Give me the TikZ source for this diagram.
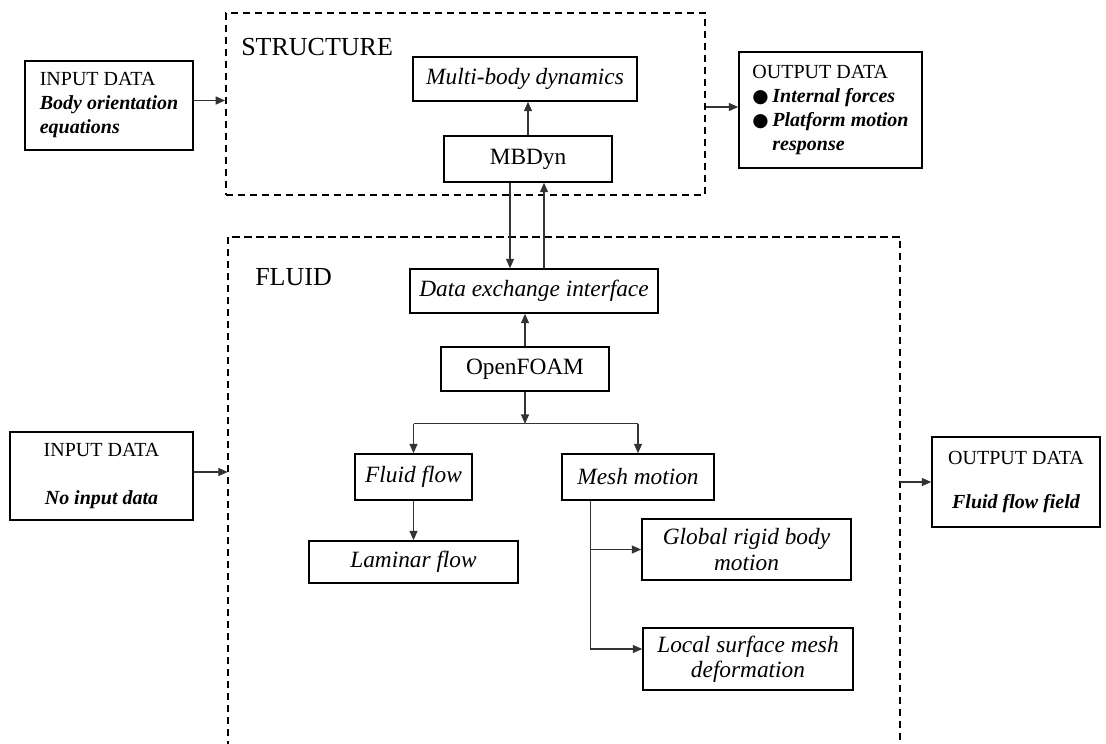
\documentclass[tikz,border=0pt]{standalone}
\usepackage{fontspec}
\setmainfont{Liberation Serif}
\newfontfamily\dejavu{DejaVu Sans}
\usetikzlibrary{arrows.meta,calc}
\newcommand\bul{\makebox[15pt][l]{\dejavu\fontsize{14}{14}\selectfont ●}}
\newcommand\bfit[1]{{\bfseries\itshape #1}}
\begin{document}
\begin{tikzpicture}[x=0.75pt,y=-0.75pt,
  box/.style={draw,line width=1.2pt,inner sep=0pt,align=center,font=\fontsize{17.5}{19}\selectfont\itshape},
  plainbox/.style={box,font=\fontsize{17.5}{19}\selectfont},
  databox/.style={draw,line width=1.2pt,inner sep=0pt,font=\fontsize{15}{18}\selectfont},
  region/.style={line width=1.4pt,dash pattern=on 5.5pt off 3.5pt},
  conn/.style={line width=0.8pt,draw=black!80},
  arr/.style={conn,-{Triangle[length=7pt,width=6pt]}},
  title/.style={font=\fontsize{19.5}{22}\selectfont,anchor=base west,inner sep=0pt}]
\useasboundingbox (0,0) rectangle (1106,743);
\clip (0,0) rectangle (1106,743);

% regions
\node[region,draw,minimum width=359.25pt,minimum height=136.5pt,inner sep=0pt] (struct) at (465.5,104) {};
\node[minimum width=504pt,minimum height=392.25pt,inner sep=0pt] (fluid) at (564,498.5) {};
\draw[region] (fluid.south west) |- (fluid.north east) -- (fluid.south east);
\node[title] (structt) at (241,55) {STRUCTURE};
\node[title] (fluidt) at (255,285) {FLUID};

% structure boxes
\node[box,minimum width=168pt,minimum height=33pt] (mbdD) at (525,79) {Multi-body dynamics};
\node[plainbox,minimum width=126pt,minimum height=34.5pt] (mbd) at (528,159) {MBDyn};

% fluid boxes
\node[box,minimum width=186pt,minimum height=33pt] (dx) at (534,291) {Data exchange interface};
\node[plainbox,minimum width=126pt,minimum height=33pt] (of) at (525,369) {OpenFOAM};
\node[box,minimum width=87.75pt,minimum height=34.5pt] (ff) at (413.5,477) {Fluid flow};
\node[box,minimum width=114pt,minimum height=34.5pt] (mm) at (638,477) {Mesh motion};
\node[box,minimum width=156.75pt,minimum height=31.5pt] (lam) at (413.5,562) {Laminar flow};
\node[box,minimum width=156.75pt,minimum height=45.75pt] (glob) at (746.5,549.5) {Global rigid body\\motion};
\node[box,minimum width=157.5pt,minimum height=46.5pt] (loc) at (748,659) {Local surface mesh\\deformation};

% data boxes
\node[databox,align=left,minimum width=126pt,minimum height=66.75pt] (in1) at (109,105.5)
  {INPUT DATA\\\bfit{Body orientation}\\\bfit{equations}};
\node[databox,align=left,minimum width=137.25pt,minimum height=87pt] (out1) at (830.5,110)
  {OUTPUT DATA\\\bul\bfit{Internal forces}\\\bul\bfit{Platform motion}\\\hspace*{15pt}\bfit{response}};
\node[databox,align=center,minimum width=137.25pt,minimum height=66pt] (in2) at (101.5,476)
  {INPUT DATA\\[18pt]\bfit{No input data}};
\node[databox,align=center,minimum width=126pt,minimum height=67.5pt] (out2) at (1016,482)
  {OUTPUT DATA\\[15pt]\bfit{Fluid flow field}};

% connectors
\draw[arr] ($(in1.east)+(0,-5)$) coordinate (a1) -- (a1 -| struct.west);
\draw[arr] ($(struct.east)+(0,3)$) coordinate (a2) -- (a2 -| out1.west);
\draw[arr] (mbd.north) -- (mbd.north |- mbdD.south);
\coordinate (d1) at ($(mbd.south)+(-18,0)$);
\coordinate (u1) at ($(mbd.south)+(16,0)$);
\draw[arr] (d1) -- (d1 |- dx.north);
\draw[arr] (u1 |- dx.north) -- (u1);
\draw[arr] (of.north) -- (of.north |- dx.south);
\draw[arr] (of.south) -- ++(0,32) coordinate (split);
\draw[conn] (split -| ff.north) -- (split -| mm.north);
\draw[arr] (split -| ff.north) -- (ff.north);
\draw[arr] (split -| mm.north) -- (mm.north);
\draw[arr] (ff.south) -- (lam.north);
\coordinate (t) at ($(mm.south west)+(29,0)$);
\draw[arr] (t) |- (glob.west);
\draw[arr] (t) |- ($(loc.west)+(0,-10)$);
\draw[arr] ($(in2.east)+(0,-4)$) coordinate (a3) -- (a3 -| fluid.west);
\draw[arr] (fluid.east |- out2.west) -- (out2.west);
\end{tikzpicture}
\end{document}
